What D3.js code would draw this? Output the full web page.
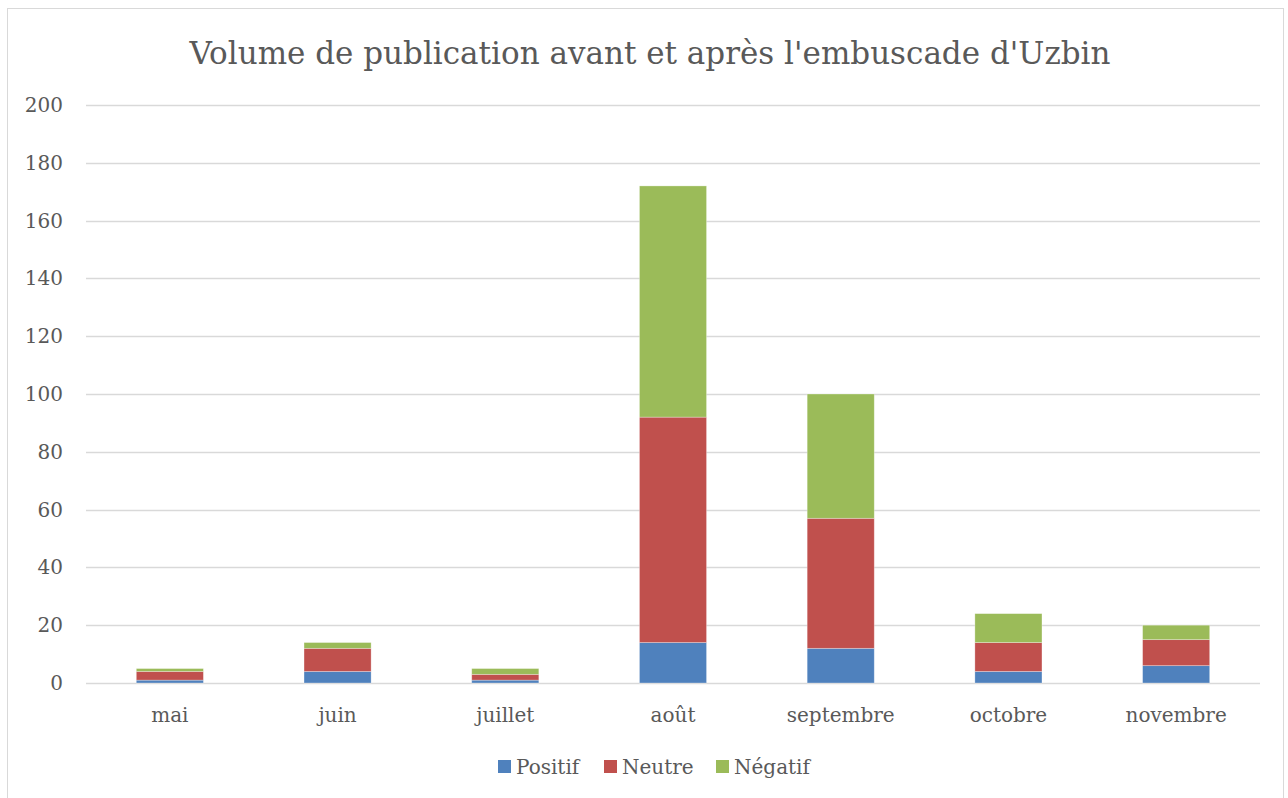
<!DOCTYPE html>
<html>
<head>
<meta charset="utf-8">
<script src="https://cdn.jsdelivr.net/npm/d3@7"></script>
<style>
  body { margin: 0; background: #fff; }
  text { font-family: "DejaVu Serif", "Liberation Serif", serif; fill: #595959; }
</style>
</head>
<body>
<svg id="chart" width="1288" height="798"></svg>
<script>
const months = ["mai", "juin", "juillet", "août", "septembre", "octobre", "novembre"];
const positif = [1, 4, 1, 14, 12, 4, 6];
const neutre = [3, 8, 2, 78, 45, 10, 9];
const negatif = [1, 2, 2, 80, 43, 10, 5];
const yTicks = [0, 20, 40, 60, 80, 100, 120, 140, 160, 180, 200];
const seriesNames = ["Positif", "Neutre", "Négatif"];
const COLORS = ["#4f81bd", "#c0504d", "#9bbb59"];

var svg = d3.select("#chart"),
  margin = { top: 105, right: 28, bottom: 115, left: 86 },
  width = +svg.attr("width") - margin.left - margin.right,
  height = +svg.attr("height") - margin.top - margin.bottom;

// chart frame
svg.append("rect")
  .attr("x", 7.5).attr("y", 8.5)
  .attr("width", 1276).attr("height", 800)
  .attr("fill", "#fff")
  .attr("stroke", "#d9d9d9");

var g = svg.append("g")
  .attr("transform", "translate(" + margin.left + "," + margin.top + ")");

var data = months.map(function(m, i) {
  return { month: m, Positif: positif[i], Neutre: neutre[i], "Négatif": negatif[i] };
});

var x = d3.scaleBand()
  .domain(months)
  .range([0, width])
  .paddingInner(0.6)
  .paddingOuter(0.3);

var y = d3.scaleLinear().domain([0, 200]).range([height, 0]);

// gridlines
g.append("g")
  .selectAll("line")
  .data(yTicks)
  .enter()
  .append("line")
  .attr("x1", 0)
  .attr("x2", width)
  .attr("y1", function(d) { return Math.round(y(d)) + 0.5; })
  .attr("y2", function(d) { return Math.round(y(d)) + 0.5; })
  .attr("stroke", "#d9d9d9")
  .attr("stroke-width", 1.5);

// y tick labels
g.append("g")
  .selectAll("text")
  .data(yTicks)
  .enter()
  .append("text")
  .attr("x", -23)
  .attr("y", function(d) { return y(d); })
  .attr("dy", "0.35em")
  .attr("text-anchor", "end")
  .attr("font-size", 20)
  .text(function(d) { return d; });

var stacked = d3.stack().keys(seriesNames)(data);

g.append("g")
  .selectAll("g")
  .data(stacked)
  .enter()
  .append("g")
  .attr("fill", function(d, i) { return COLORS[i]; })
  .selectAll("rect")
  .data(function(d) { return d; })
  .enter()
  .append("rect")
  .attr("x", function(d) { return x(d.data.month); })
  .attr("y", function(d) { return y(d[1]); })
  .attr("height", function(d) { return y(d[0]) - y(d[1]); })
  .attr("width", x.bandwidth())
  .attr("stroke", "#fff")
  .attr("stroke-opacity", 0.4)
  .attr("stroke-width", 0.75);

// x labels
g.append("g")
  .selectAll("text")
  .data(months)
  .enter()
  .append("text")
  .attr("x", function(d) { return x(d) + x.bandwidth() / 2; })
  .attr("y", height + 39)
  .attr("text-anchor", "middle")
  .attr("font-size", 20)
  .text(function(d) { return d; });

// title
svg.append("text")
  .attr("x", 650)
  .attr("y", 64)
  .attr("text-anchor", "middle")
  .attr("font-size", 31)
  .text("Volume de publication avant et après l'embuscade d'Uzbin");

// legend
var legendX = [498, 604, 716];
var legend = svg.append("g")
  .selectAll("g")
  .data(seriesNames)
  .enter()
  .append("g")
  .attr("transform", function(d, i) { return "translate(" + legendX[i] + ",760)"; });

legend.append("rect")
  .attr("width", 13)
  .attr("height", 13)
  .attr("fill", function(d, i) { return COLORS[i]; });

legend.append("text")
  .attr("x", 18)
  .attr("y", 7)
  .attr("dy", "0.35em")
  .attr("font-size", 20)
  .text(function(d) { return d; });
</script>
</body>
</html>
